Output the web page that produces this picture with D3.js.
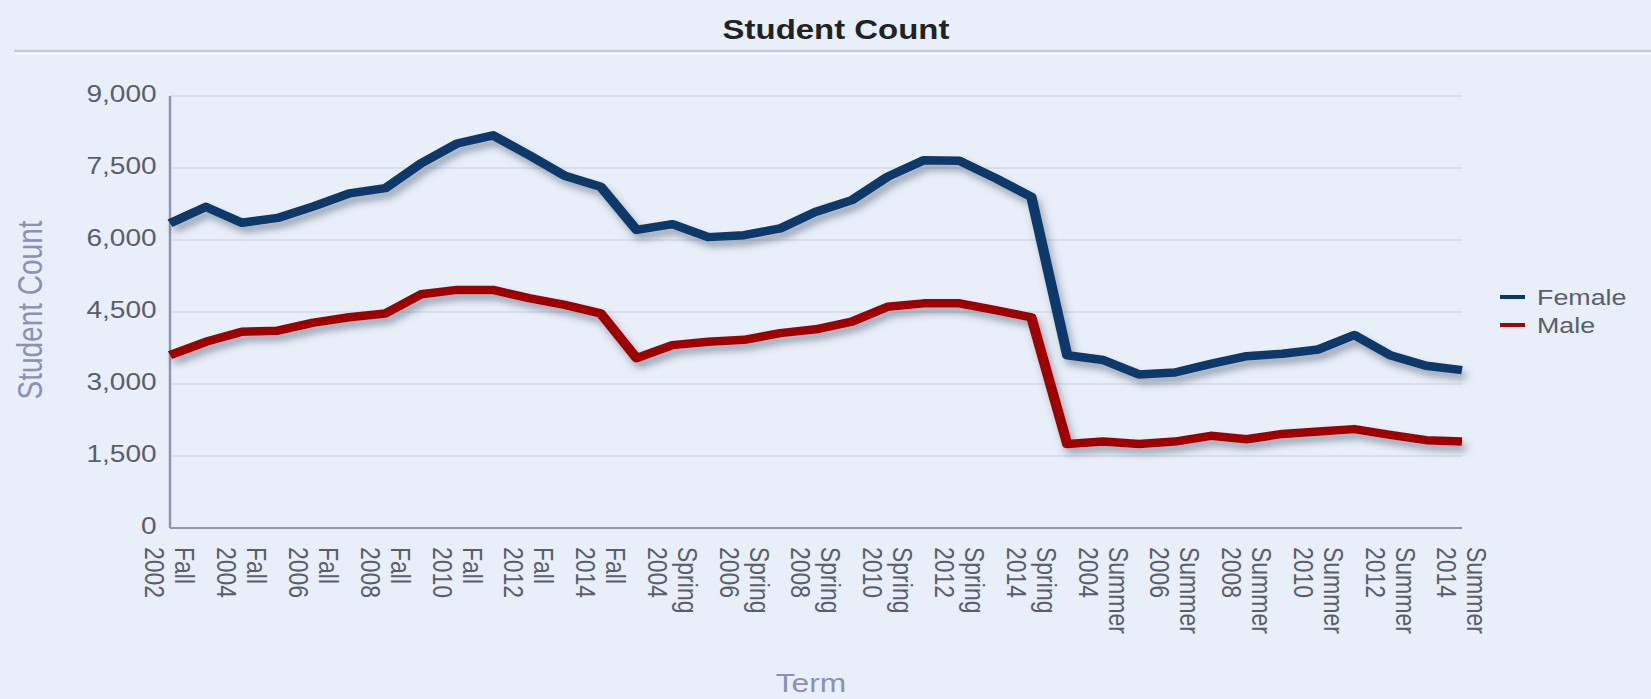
<!DOCTYPE html>
<html>
<head>
<meta charset="utf-8">
<script src="https://cdn.jsdelivr.net/npm/d3@7/dist/d3.min.js"></script>
<style>
	html, body { margin: 0; padding: 0; background: #e9eff8; }
	svg { display: block; font-family: "Liberation Sans", Arial, sans-serif; }
</style>
</head>
<body>
<svg id="chart"></svg>
<script>
const terms = [
	'Fall 2002', 'Fall 2003', 'Fall 2004', 'Fall 2005', 'Fall 2006', 'Fall 2007', 'Fall 2008',
	'Fall 2009', 'Fall 2010', 'Fall 2011', 'Fall 2012', 'Fall 2013', 'Fall 2014',
	'Spring 2003', 'Spring 2004', 'Spring 2005', 'Spring 2006', 'Spring 2007', 'Spring 2008',
	'Spring 2009', 'Spring 2010', 'Spring 2011', 'Spring 2012', 'Spring 2013', 'Spring 2014',
	'Summer 2003', 'Summer 2004', 'Summer 2005', 'Summer 2006', 'Summer 2007', 'Summer 2008',
	'Summer 2009', 'Summer 2010', 'Summer 2011', 'Summer 2012', 'Summer 2013', 'Summer 2014'
]
const female = [
	6350, 6690, 6360, 6460, 6700, 6970, 7080, 7600, 8010, 8180, 7770, 7340, 7110,
	6210, 6330, 6060, 6100, 6240, 6590, 6830, 7320, 7660, 7650, 7290, 6900,
	3600, 3500, 3200, 3240, 3420, 3580, 3630, 3720, 4020, 3600, 3380, 3290
]
const male = [
	3600, 3880, 4090, 4110, 4280, 4390, 4470, 4870, 4960, 4960, 4790, 4650, 4470,
	3540, 3810, 3880, 3920, 4060, 4140, 4300, 4610, 4680, 4680, 4540, 4390,
	1750, 1800, 1750, 1800, 1920, 1850, 1960, 2010, 2060, 1940, 1830, 1800
]
const yTicks = [0, 1500, 3000, 4500, 6000, 7500, 9000]
const seriesNames = ['Female', 'Male']
const seriesColors = ['#0a386a', '#9e0606']

function draw(id) {
	// the reference is stretched sideways, so draw narrow and let the viewBox widen it
	const stretch = 1.22
	const W = 1651, H = 699
	const vbW = W / stretch
	const svg = d3.select(`#${id}`)
		.attr('width', W)
		.attr('height', H)
		.attr('viewBox', `0 0 ${vbW} ${H}`)
		.attr('preserveAspectRatio', 'none')

	const margin = { top: 96, right: vbW - 1462 / stretch, bottom: H - 528, left: 170 / stretch }
	const width = vbW - margin.left - margin.right
	const height = H - margin.top - margin.bottom

	const x = d3.scalePoint().domain(terms).range([0, width])
	const y = d3.scaleLinear().domain([0, 9000]).range([height, 0])

	const defs = svg.append('defs')
	const f = defs.append('filter')
		.attr('id', 'shadow')
		.attr('x', '-5%').attr('y', '-20%')
		.attr('width', '110%').attr('height', '150%')
	f.append('feDropShadow')
		.attr('dx', 3).attr('dy', 6)
		.attr('stdDeviation', 3.5)
		.attr('flood-color', '#3c4a66')
		.attr('flood-opacity', 0.45)

	// title
	svg.append('text')
		.attr('x', 836 / stretch)
		.attr('y', 39.5)
		.attr('text-anchor', 'middle')
		.style('font-size', '27px')
		.style('font-weight', 'bold')
		.attr('fill', '#222')
		.text('Student Count')
	svg.append('line')
		.attr('x1', 14 / stretch).attr('x2', vbW)
		.attr('y1', 51).attr('y2', 51)
		.attr('stroke', '#c5cadb').attr('stroke-width', 2.5)
	svg.append('line')
		.attr('x1', 14 / stretch).attr('x2', vbW)
		.attr('y1', 53.5).attr('y2', 53.5)
		.attr('stroke', '#ffffff').attr('stroke-width', 1.5)

	const chart = svg.append('g')
		.attr('transform', `translate(${margin.left}, ${margin.top})`)

	// gridlines
	chart.append('g')
		.selectAll('line')
		.data(yTicks.filter(d => d > 0))
		.join('line')
		.attr('x1', 0).attr('x2', width)
		.attr('y1', d => y(d)).attr('y2', d => y(d))
		.attr('stroke', '#d3d8e7')
		.attr('stroke-width', 1.6)

	// y axis
	const yAxis = chart.append('g')
		.call(d3.axisLeft(y).tickValues(yTicks).tickSize(0).tickPadding(11).tickFormat(d3.format(',')))
	yAxis.select('.domain').remove()
	yAxis.selectAll('text')
		.attr('dy', '0.25em')
		.style('font-size', '23px')
		.attr('fill', '#5a5e6a')

	// x axis
	const xAxis = chart.append('g')
		.attr('transform', `translate(0, ${height})`)
		.call(d3.axisBottom(x).tickValues(terms.filter((d, i) => i % 2 === 0)).tickSize(0))
	xAxis.select('.domain').remove()
	xAxis.selectAll('text')
		.attr('y', null)
		.attr('dy', null)
		.attr('transform', 'translate(0, 19) rotate(90)')
		.style('text-anchor', 'start')
		.style('font-size', '23px')
		.attr('fill', '#5a5e6a')
		.each(function (d) {
			const parts = d.split(' ')
			const t = d3.select(this).text(null)
			t.append('tspan').attr('x', 0).attr('y', -4).text(parts[0])
			t.append('tspan').attr('x', 0).attr('y', 20.6).text(parts[1])
		})

	// axis lines
	chart.append('line')
		.attr('x1', 0).attr('x2', 0)
		.attr('y1', 0).attr('y2', height)
		.attr('stroke', '#8e94b8').attr('stroke-width', 2)
	chart.append('line')
		.attr('x1', 0).attr('x2', width)
		.attr('y1', height).attr('y2', height)
		.attr('stroke', '#8e94b8').attr('stroke-width', 2)

	// lines
	const line = d3.line()
		.x((d, i) => x(terms[i]))
		.y(d => y(d))
	const series = [female, male]
	series.forEach((s, k) => {
		chart.append('path')
			.attr('d', line(s))
			.attr('fill', 'none')
			.attr('stroke', seriesColors[k])
			.attr('stroke-width', 8.5)
			.attr('stroke-linejoin', 'round')
			.attr('filter', 'url(#shadow)')
	})

	// axis titles
	svg.append('text')
		.attr('transform', `translate(${42 / stretch}, 310) rotate(-90)`)
		.attr('text-anchor', 'middle')
		.style('font-size', '28px')
		.attr('fill', '#8b90b4')
		.text('Student Count')
	svg.append('text')
		.attr('x', 811 / stretch)
		.attr('y', 692)
		.attr('text-anchor', 'middle')
		.style('font-size', '26px')
		.attr('fill', '#8b90b4')
		.text('Term')

	// legend
	const legend = svg.append('g')
		.attr('transform', `translate(${1500 / stretch}, 297)`)
	seriesNames.forEach((name, k) => {
		const g = legend.append('g').attr('transform', `translate(0, ${k * 28})`)
		g.append('line')
			.attr('x1', 0).attr('x2', 25 / stretch)
			.attr('stroke', seriesColors[k])
			.attr('stroke-width', 4)
		g.append('text')
			.attr('x', 37 / stretch)
			.attr('dy', '0.35em')
			.style('font-size', '22px')
			.attr('fill', '#5a5e6a')
			.text(name)
	})
}

draw('chart')
</script>
</body>
</html>
